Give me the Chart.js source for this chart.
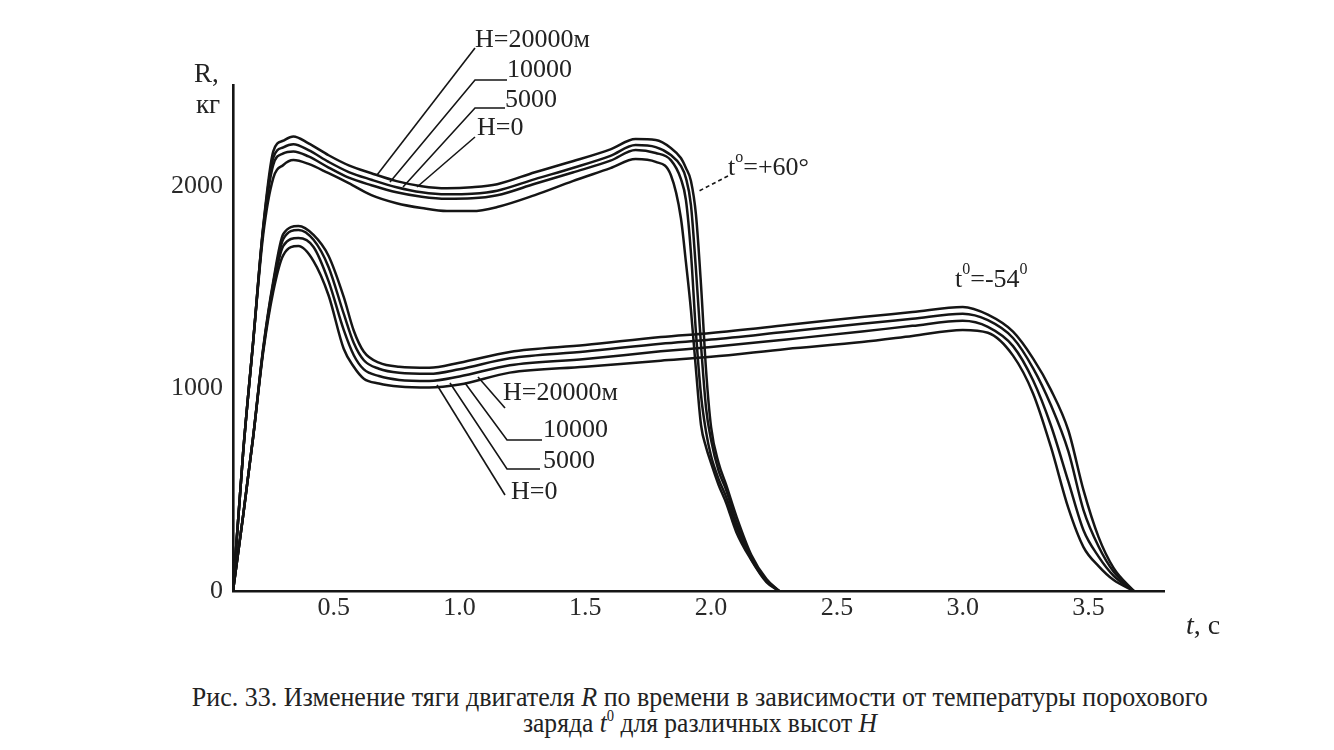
<!DOCTYPE html>
<html>
<head>
<meta charset="utf-8">
<script src="https://cdn.jsdelivr.net/npm/chart.js@4.4.1/dist/chart.umd.min.js"></script>
<style>
  html, body { margin: 0; padding: 0; background: #fff; }
  #wrap { position: relative; width: 1334px; height: 750px; overflow: hidden; }
  #plot { position: absolute; left: 0; top: 0; }
  #caption { position: absolute; left: 33px; top: 684px; width: 1334px; text-align: center;
             font-family: "Liberation Serif", serif; font-size: 28px; line-height: 26px; color: #222; }
  #caption span { display: inline-block; white-space: nowrap; transform-origin: center; }
  #caption sup { font-size: 16px; vertical-align: 11px; line-height: 0; }
</style>
</head>
<body>
<div id="wrap">
  <canvas id="plot" width="1334" height="660"></canvas>
  <div id="caption">
    <div><span id="cap1">Рис. 33. Изменение тяги двигателя <i>R</i> по времени в зависимости от температуры порохового</span></div>
    <div><span id="cap2">заряда <i>t</i><sup>0</sup> для различных высот <i>H</i></span></div>
  </div>
</div>
<script>
// time, s
const tHot  = [0.10, 0.14, 0.18, 0.22, 0.26, 0.30, 0.34, 0.40, 0.48, 0.56, 0.65, 0.75, 0.85, 0.95, 1.05, 1.15,
               1.30, 1.45, 1.60, 1.70, 1.78, 1.84, 1.88, 1.90, 1.92, 1.94, 1.96, 1.98, 2.00, 2.03, 2.06,
               2.10, 2.16, 2.22, 2.27];
const tCold = [0.10, 0.14, 0.18, 0.22, 0.26, 0.30, 0.36, 0.42, 0.48, 0.54, 0.58, 0.62, 0.68, 0.76, 0.88, 1.00,
               1.20, 1.50, 1.80, 2.00, 2.30, 2.60, 2.80, 3.00, 3.10, 3.20, 3.28, 3.35, 3.42, 3.48, 3.54, 3.60, 3.68];

// thrust R, kg — t0 = +60
const hotH20000 = [0, 680, 1230, 1800, 2172, 2225, 2246, 2212, 2153, 2103, 2064, 2025, 2000, 1990, 1995, 2010,
                   2069, 2123, 2182, 2233, 2228, 2189, 2139, 2090, 2026, 1858, 1512, 1092, 810, 632, 524,
                   371, 178, 59, 0];
const hotH10000 = [0, 680, 1230, 1795, 2140, 2192, 2207, 2178, 2120, 2070, 2032, 1995, 1970, 1960, 1963, 1978,
                   2035, 2090, 2150, 2203, 2193, 2154, 2100, 2040, 1907, 1586, 1215, 904, 746, 593, 499,
                   341, 168, 54, 0];
const hotH5000  = [0, 680, 1230, 1785, 2105, 2162, 2172, 2147, 2092, 2042, 2005, 1970, 1948, 1938, 1940, 1955,
                   2012, 2068, 2126, 2179, 2164, 2129, 2036, 1932, 1670, 1275, 968, 786, 667, 553, 464,
                   316, 158, 49, 0];
const hotH0     = [0, 680, 1230, 1760, 2040, 2105, 2129, 2110, 2064, 2015, 1956, 1916, 1892, 1877, 1877, 1897,
                   1956, 2025, 2089, 2134, 2120, 2055, 1843, 1625, 1388, 1092, 820, 711, 632, 524, 435,
                   292, 153, 44, 0];

// thrust R, kg — t0 = -54
const coldH20000 = [0, 370, 760, 1200, 1530, 1764, 1803, 1759, 1655, 1453, 1286, 1182, 1128, 1108, 1103, 1128,
                    1181, 1215, 1255, 1275, 1314, 1354, 1378, 1403, 1365, 1281, 1148, 995, 793, 498, 266, 113, 0];
const coldH10000 = [0, 370, 760, 1195, 1520, 1740, 1784, 1735, 1600, 1370, 1225, 1140, 1098, 1078, 1073, 1096,
                    1150, 1183, 1222, 1242, 1281, 1320, 1345, 1370, 1338, 1250, 1100, 920, 690, 400, 220, 95, 0];
const coldH5000  = [0, 370, 760, 1190, 1505, 1705, 1744, 1700, 1530, 1290, 1165, 1095, 1062, 1043, 1038, 1060,
                    1115, 1146, 1184, 1205, 1243, 1282, 1310, 1335, 1305, 1210, 1040, 820, 540, 300, 170, 75, 0];
const coldH0     = [0, 370, 760, 1180, 1480, 1660, 1704, 1630, 1460, 1197, 1108, 1049, 1025, 1010, 1005, 1020,
                    1079, 1108, 1138, 1157, 1196, 1230, 1260, 1290, 1276, 1163, 975, 714, 409, 217, 123, 54, 0];

const xTicks = [0.5, 1.0, 1.5, 2.0, 2.5, 3.0, 3.5];
const yTicks = [0, 1000, 2000];

const serif = '"Liberation Serif", "Times New Roman", serif';
const ink = '#151515';

function pts(t, r) { return t.map((v, i) => ({ x: v, y: r[i] })); }
function curve(label, t, r) {
    return { label: label, data: pts(t, r), borderColor: ink, borderWidth: 2.5, pointRadius: 0,
             fill: false, cubicInterpolationMode: 'monotone' };
}

// text helper: pieces [text, italic?, superscript?]
function drawRich(c, x, y, parts, size) {
    let cx = x;
    parts.forEach(p => {
        const sup = p[2];
        const fs = sup ? Math.round(size * 0.6) : size;
        c.font = (p[1] ? 'italic ' : '') + fs + 'px ' + serif;
        c.fillText(p[0], cx, sup ? y - size * 0.38 : y);
        cx += c.measureText(p[0]).width;
    });
}

function line(c, pts, dash) {
    c.setLineDash(dash || []);
    c.beginPath();
    c.moveTo(pts[0][0], pts[0][1]);
    for (let i = 1; i < pts.length; i++) c.lineTo(pts[i][0], pts[i][1]);
    c.stroke();
    c.setLineDash([]);
}

// labels, leader lines, axis titles
const annotate = {
    id: 'annotate',
    afterDraw(chart) {
        const c = chart.ctx;
        c.save();
        c.strokeStyle = ink;
        c.fillStyle = '#222';
        c.lineWidth = 1.6;
        c.textBaseline = 'middle';
        c.textAlign = 'left';

        // upper group (t = +60)
        line(c, [[475, 48], [377, 175]]);
        line(c, [[507, 80], [475, 80], [390, 182]]);
        line(c, [[505, 108], [475, 108], [403, 187]]);
        line(c, [[475, 137], [417, 187]]);
        drawRich(c, 475, 40, [['H=20000м']], 26);
        drawRich(c, 507, 70, [['10000']], 26);
        drawRich(c, 505, 100, [['5000']], 26);
        drawRich(c, 477, 128, [['H=0']], 26);

        // lower group (t = -54)
        line(c, [[505, 408], [478, 377]]);
        line(c, [[542, 440], [507, 440], [465, 383]]);
        line(c, [[540, 469], [507, 469], [450, 383]]);
        line(c, [[505, 495], [437, 385]]);
        drawRich(c, 503, 393, [['H=20000м']], 26);
        drawRich(c, 543, 430, [['10000']], 26);
        drawRich(c, 543, 461, [['5000']], 26);
        drawRich(c, 511, 492, [['H=0']], 26);

        // temperature labels
        line(c, [[728, 176], [697, 192]], [4, 3]);
        drawRich(c, 728, 168, [['t'], ['o', false, true], ['=+60°']], 26);
        drawRich(c, 955, 280, [['t'], ['0', false, true], ['=-54'], ['0', false, true]], 26);

        // axis titles
        drawRich(c, 194, 75, [['R,']], 27);
        drawRich(c, 196, 106, [['кг']], 27);
        drawRich(c, 1186, 627, [['t', true], [', с']], 28);
        c.restore();
    }
};

const chart = new Chart(document.getElementById('plot').getContext('2d'), {
    type: 'line',
    data: {
        datasets: [
            curve('+60 H=20000', tHot, hotH20000),
            curve('+60 H=10000', tHot, hotH10000),
            curve('+60 H=5000', tHot, hotH5000),
            curve('+60 H=0', tHot, hotH0),
            curve('-54 H=20000', tCold, coldH20000),
            curve('-54 H=10000', tCold, coldH10000),
            curve('-54 H=5000', tCold, coldH5000),
            curve('-54 H=0', tCold, coldH0)
        ]
    },
    options: {
        responsive: false,
        animation: false,
        layout: { padding: { left: 0, right: 170, top: 85, bottom: 0 } },
        plugins: { legend: { display: false }, tooltip: { enabled: false } },
        scales: {
            x: {
                type: 'linear', min: 0.1, max: 3.8,
                grid: { display: false, drawTicks: false },
                border: { color: ink, width: 2.6 },
                afterBuildTicks: s => { s.ticks = xTicks.map(v => ({ value: v })); },
                afterFit: s => { s.height = 660 - 591; },
                ticks: { padding: 2, color: '#2a2a2a', font: { family: serif, size: 26 },
                         callback: v => v.toFixed(1) }
            },
            y: {
                min: 0, max: 2500,
                grid: { display: false, drawTicks: false },
                border: { color: ink, width: 2.6 },
                afterBuildTicks: s => { s.ticks = yTicks.map(v => ({ value: v })); },
                afterFit: s => { s.width = 233; },
                ticks: { padding: 10, color: '#2a2a2a', font: { family: serif, size: 26 },
                         callback: v => String(v) }
            }
        }
    },
    plugins: [annotate]
});

// squeeze caption lines to the width of the printed ones
function fit(id, w) {
    const el = document.getElementById(id);
    el.style.transform = 'scaleX(' + (w / el.getBoundingClientRect().width) + ')';
}
fit('cap1', 1016);
fit('cap2', 354);
</script>
</body>
</html>
